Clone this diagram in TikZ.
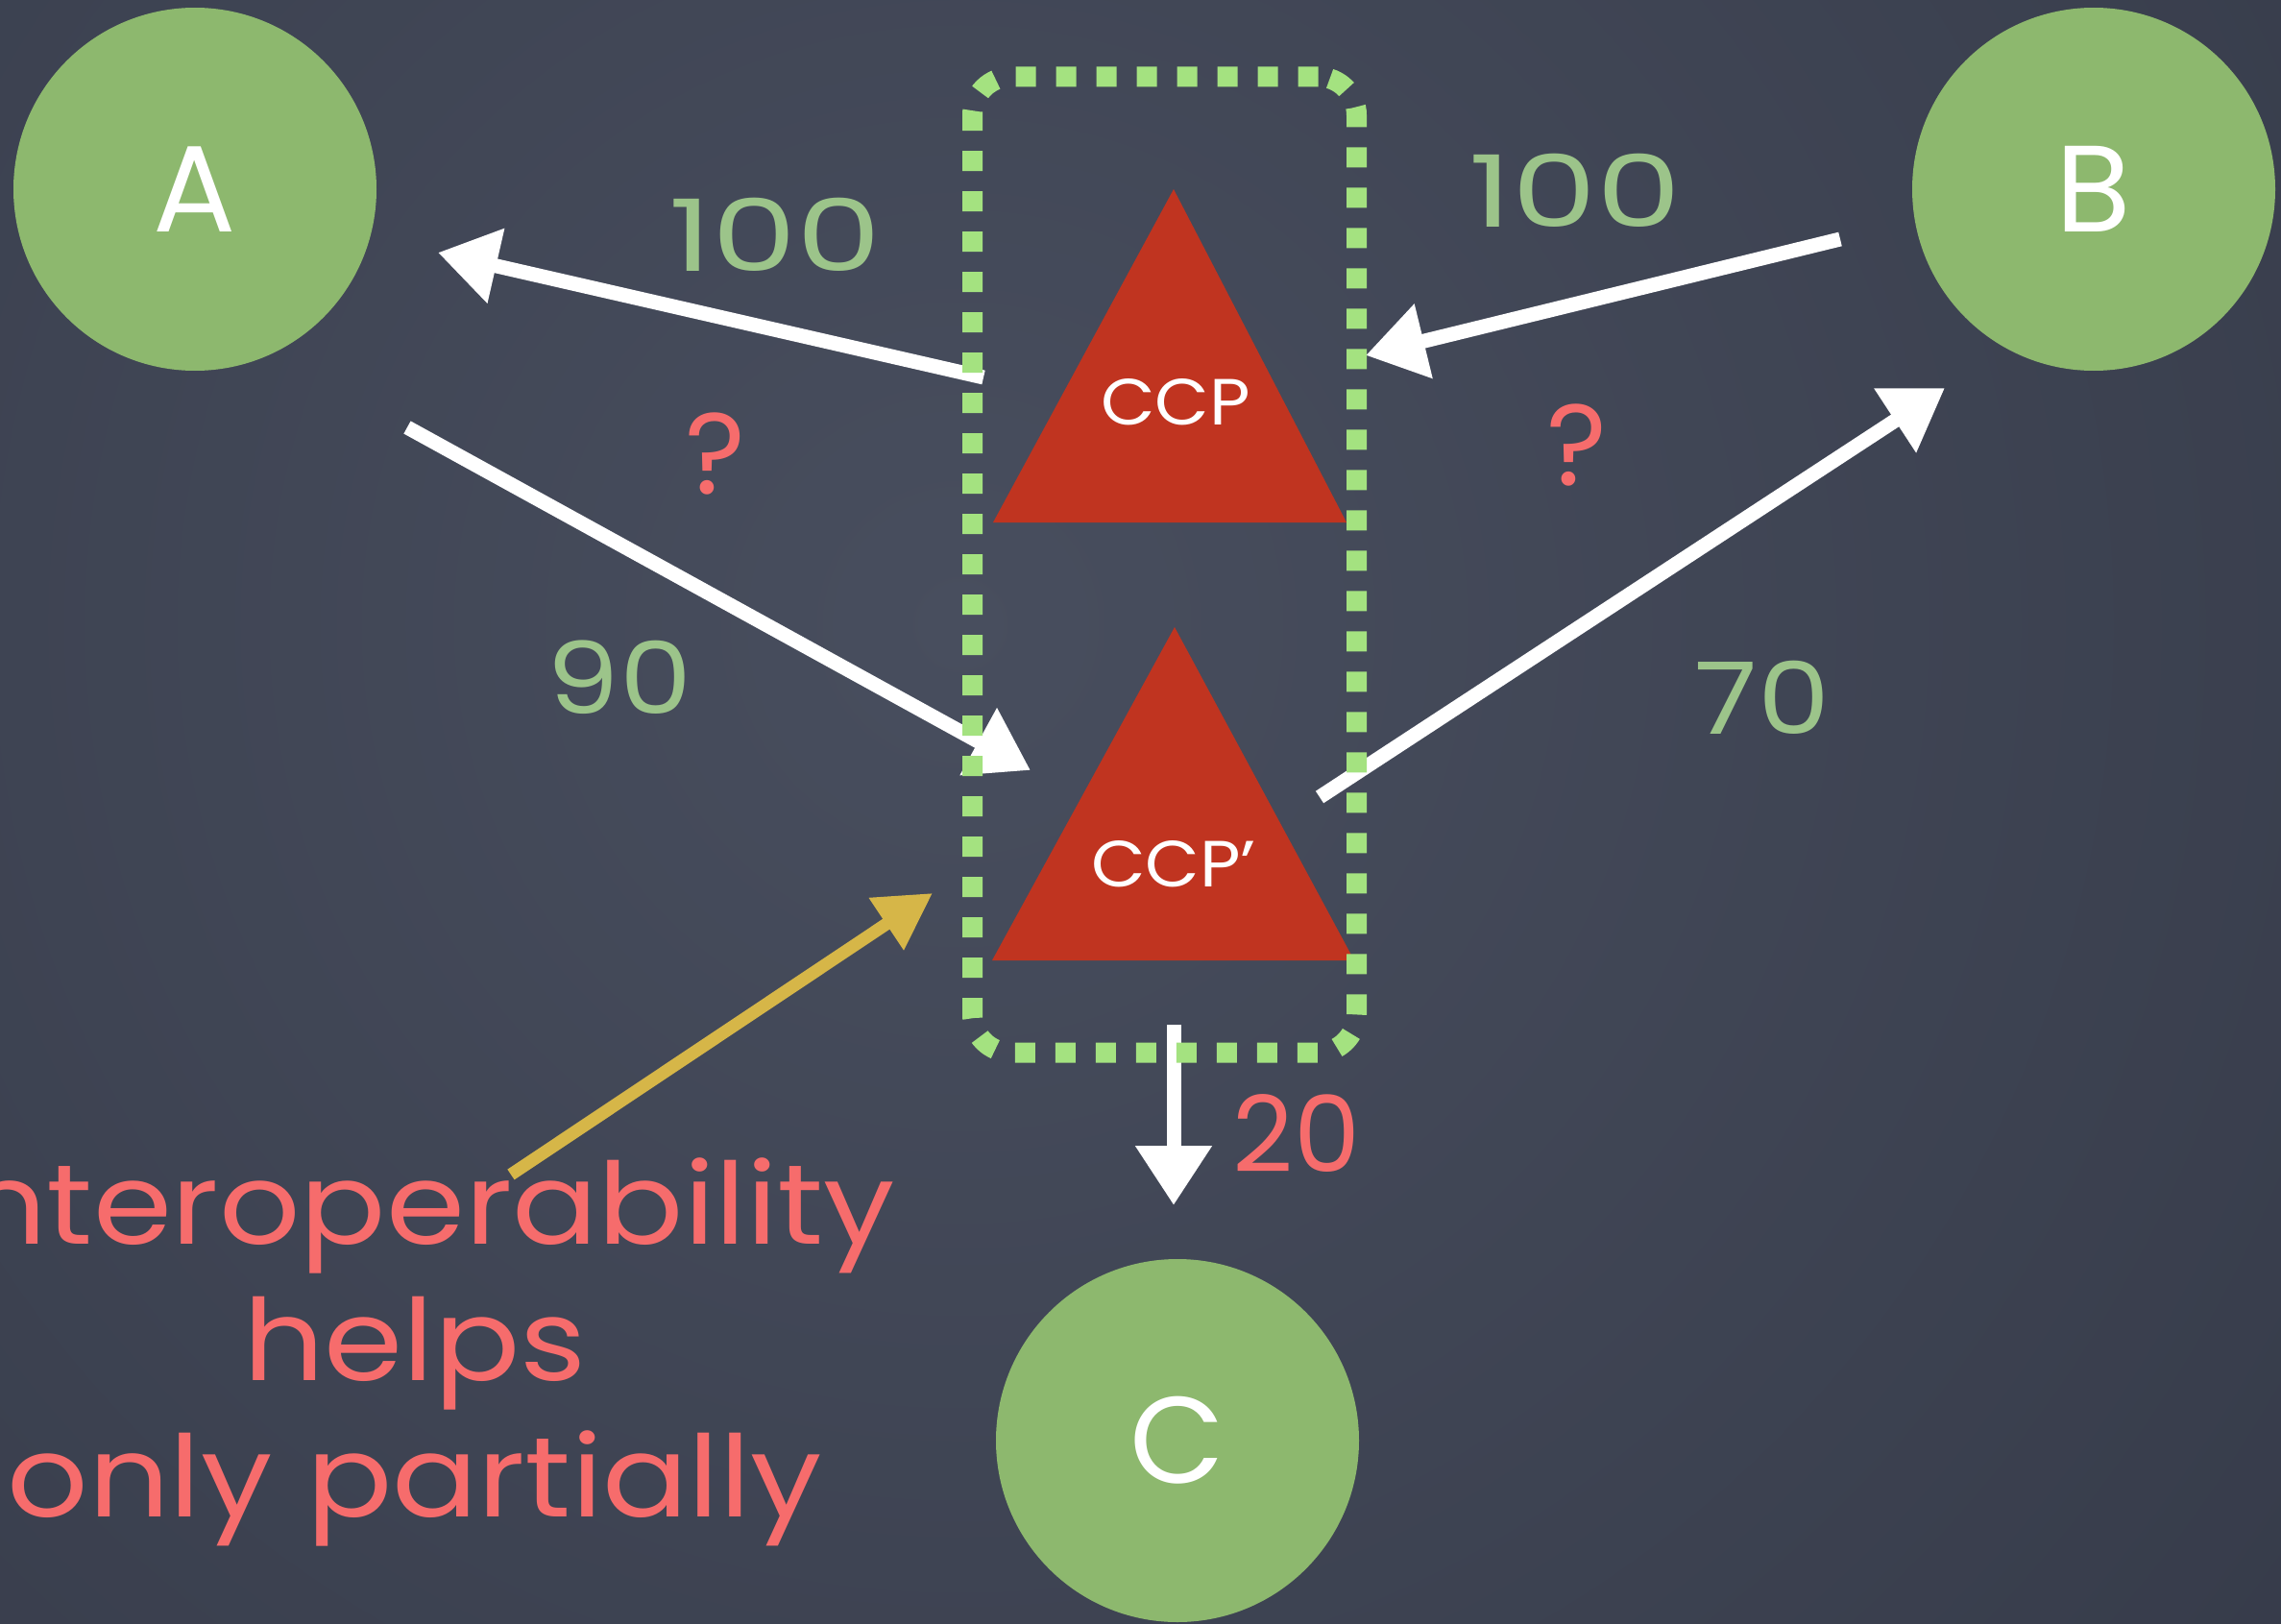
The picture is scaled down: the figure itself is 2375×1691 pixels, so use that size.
\documentclass[tikz,border=0pt]{standalone}
\usepackage{fontspec}
\setmainfont{Poppins}
\usetikzlibrary{arrows.meta}

\definecolor{board}{RGB}{48,53,67}
\definecolor{boardlight}{RGB}{72,78,94}
\definecolor{nodegreen}{RGB}{141,184,110}
\definecolor{dashgreen}{RGB}{164,226,128}
\definecolor{labelgreen}{RGB}{156,196,138}
\definecolor{ccpred}{RGB}{192,52,32}
\definecolor{textred}{RGB}{246,108,108}
\definecolor{chalkyellow}{RGB}{214,182,72}

% horizontally widened text, closer to a chalk hand
\newcommand{\wide}[2]{\scalebox{#1}[1]{#2}}

\tikzset{
  party/.style={circle, fill=nodegreen, minimum size=378pt, inner sep=0pt,
    text=white, font=\fontsize{128}{128}\selectfont},
  ccptext/.style={text=white, inner sep=0pt, font=\fontsize{68}{68}\selectfont},
  amount/.style={text=labelgreen, inner sep=0pt, font=\fontsize{104}{104}\selectfont},
  unknown/.style={text=textred, inner sep=0pt, font=\fontsize{120}{120}\selectfont},
  flowred/.style={text=textred, inner sep=0pt, font=\fontsize{110}{110}\selectfont},
  remark/.style={text=textred, inner sep=0pt, anchor=base, font=\fontsize{118}{118}\selectfont},
  chalk/.style={draw=white, line width=15pt, -{Triangle[length=62pt,width=76pt]}},
  yellowchalk/.style={draw=chalkyellow, line width=13pt, -{Triangle[length=58pt,width=62pt]}},
  groupbox/.style={draw=dashgreen, line width=21pt, dash pattern=on 21pt off 21pt,
    rounded corners=40pt, minimum width=400pt, minimum height=1016pt, inner sep=0pt},
}

\begin{document}
\begin{tikzpicture}[x=1pt, y=-1pt]
  % chalkboard
  \useasboundingbox (0,0) rectangle (2375,1691);
  \fill[board] (0,0) rectangle (2375,1691);
  \begin{scope}
    \clip (0,0) rectangle (2375,1691);
    \shade[inner color=boardlight, outer color=board] (1000,650) circle (2400);
  \end{scope}

  % parties
  \node[party] (A) at (203,197) {A};
  \node[party] (B) at (2180,197) {B};
  \node[party] (C) at (1226,1500) {C};

  % central counterparties
  \fill[ccpred] (1222,197) -- (1034,544) -- (1402,544) -- cycle;
  \fill[ccpred] (1223,653) -- (1033,1000) -- (1410,1000) -- cycle;

  % arrow end points
  \coordinate (ccpL)  at (1024,393);
  \coordinate (toA)   at (456,263);
  \coordinate (fromB) at (1916,249);
  \coordinate (ccpR)  at (1422,370);
  \coordinate (fromA) at (424,445);
  \coordinate (ccppL) at (1073,802);
  \coordinate (ccppR) at (1374,830);
  \coordinate (toB)   at (2025,404);
  \coordinate (boxS)  at (1222,1067);
  \coordinate (toC)   at (1222,1255);
  \coordinate (noteS) at (532,1223);
  \coordinate (noteE) at (971,930);

  % flows
  \draw[chalk] (ccpL) -- (toA);
  \draw[chalk] (fromB) -- (ccpR);
  \draw[chalk] (fromA) -- (ccppL);
  \draw[chalk] (ccppR) -- (toB);
  \draw[chalk] (boxS) -- (toC);
  \draw[yellowchalk] (noteS) -- (noteE);

  % interoperable group
  \node[groupbox] (group) at (1212.5,588) {};

  % labels
  \node[ccptext] (ccp)  at (1224,419) {\wide{1.08}{CCP}};
  \node[ccptext] (ccpp) at (1222,900) {\wide{1.08}{CCP'}};
  \node[amount] (l100a) at (807,244) {\wide{1.35}{100}};
  \node[amount] (l100b) at (1640,198) {\wide{1.35}{100}};
  \node[amount] (l90)   at (645,705) {\wide{1.15}{90}};
  \node[amount] (l70)   at (1835,726) {\wide{1.15}{70}};
  \node[unknown] (qa) at (745,472) {?};
  \node[unknown] (qb) at (1642,463) {?};
  \node[flowred] (l20) at (1350,1180) {20};

  \node[remark] (note1) at (432,1295) {\wide{1.12}{Interoperability}};
  \node[remark] (note2) at (432,1437) {\wide{1.12}{helps}};
  \node[remark] (note3) at (432,1579) {\wide{1.12}{only partially}};
\end{tikzpicture}
\end{document}
